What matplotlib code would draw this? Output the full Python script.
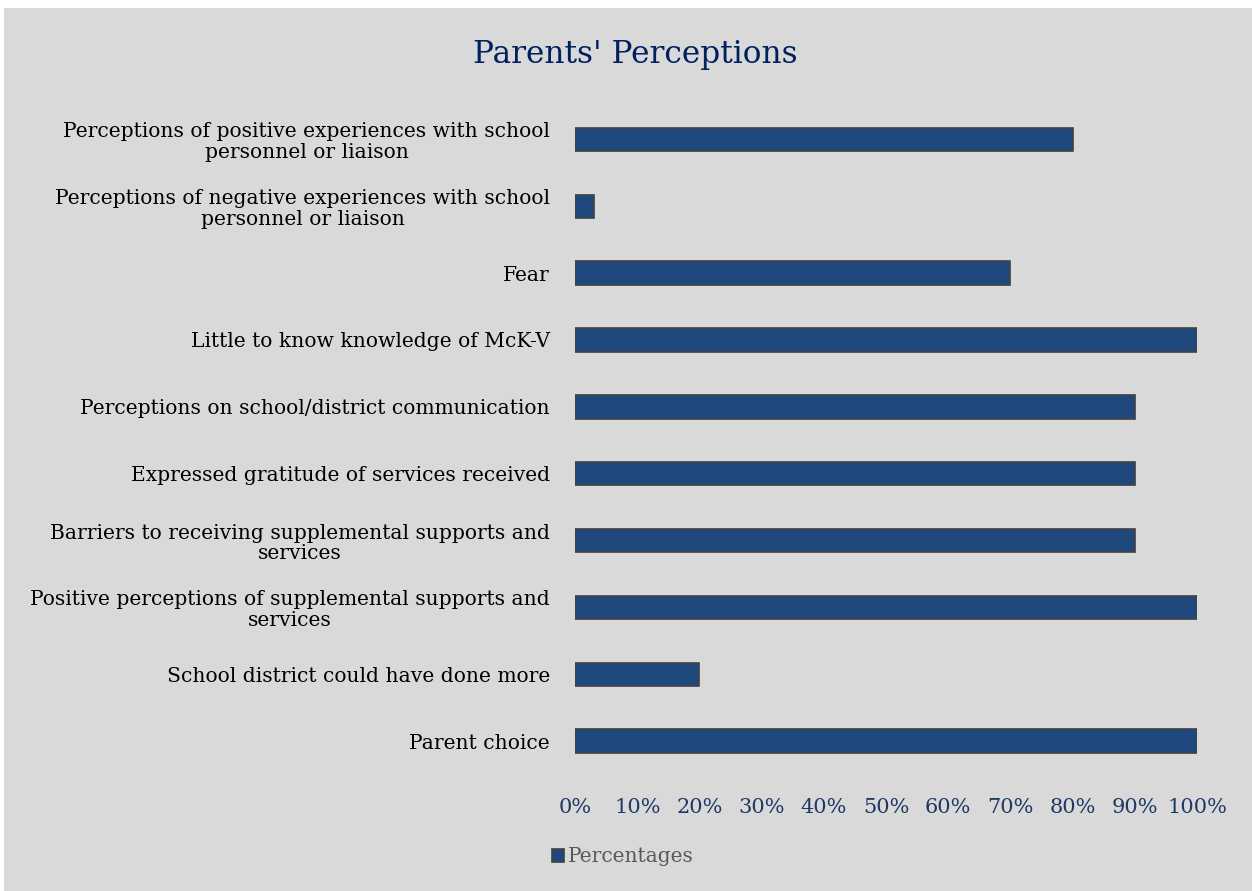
import numpy as np
import matplotlib.pyplot as plt
from matplotlib.patches import Rectangle

categories = [
    "Parent choice",
    "School district could have done more",
    "Positive perceptions of supplemental supports and\nservices",
    "Barriers to receiving supplemental supports and\nservices",
    "Expressed gratitude of services received",
    "Perceptions on school/district communication",
    "Little to know knowledge of McK-V",
    "Fear",
    "Perceptions of negative experiences with school\npersonnel or liaison",
    "Perceptions of positive experiences with school\npersonnel or liaison",
]
percentages = [100, 20, 100, 90, 90, 90, 100, 70, 3, 80]
xticks = [0, 10, 20, 30, 40, 50, 60, 70, 80, 90, 100]

bg = "#d9d9d9"
bar_color = "#1f497d"
navy = "#1f3864"
plt.rcParams['font.family'] = ['DejaVu Serif']

fig = plt.figure(figsize=(12.52, 8.91), dpi=100)
fig.patch.set_facecolor("white")
fig.add_artist(Rectangle((4 / 1252, 0), 1, 1 - 8 / 891, transform=fig.transFigure,
                         facecolor=bg, edgecolor="none", zorder=-10))

ax = fig.add_axes([575 / 1252, 1 - 774.5 / 891, 622 / 1252, (774.5 - 106) / 891])
ax.set_facecolor("none")
y = np.arange(len(categories))
ax.barh(y, percentages, height=0.35, color=bar_color, edgecolor="#404040", linewidth=1.2,
        label="Percentages")
ax.set_xlim(0, 100)
ax.set_ylim(-0.5, len(categories) - 0.5)
ax.set_yticks(y)
ax.set_yticklabels(categories, fontsize=14.6, color="black", ha="right",
                   multialignment="center", linespacing=1.1)
ax.set_xticks(xticks)
ax.set_xticklabels([f"{t}%" for t in xticks], fontsize=15, color=navy)
ax.tick_params(axis="both", length=0)
ax.tick_params(axis="y", pad=18)
ax.tick_params(axis="x", pad=17)
for s in ax.spines.values():
    s.set_visible(False)

fig.text(635 / 1252, 1 - 55 / 891, "Parents' Perceptions", fontsize=22.5, color="#002060",
         ha="center", va="center")

handles, labels = ax.get_legend_handles_labels()
leg = fig.legend(handles, labels, loc="center", bbox_to_anchor=(623 / 1252, 1 - 857 / 891),
                 frameon=False, fontsize=14.5, handlelength=0.6, handleheight=0.6,
                 handletextpad=0.2)
for t in leg.get_texts():
    t.set_color("#595959")

fig.savefig("out.png", dpi=100, facecolor=fig.get_facecolor())
